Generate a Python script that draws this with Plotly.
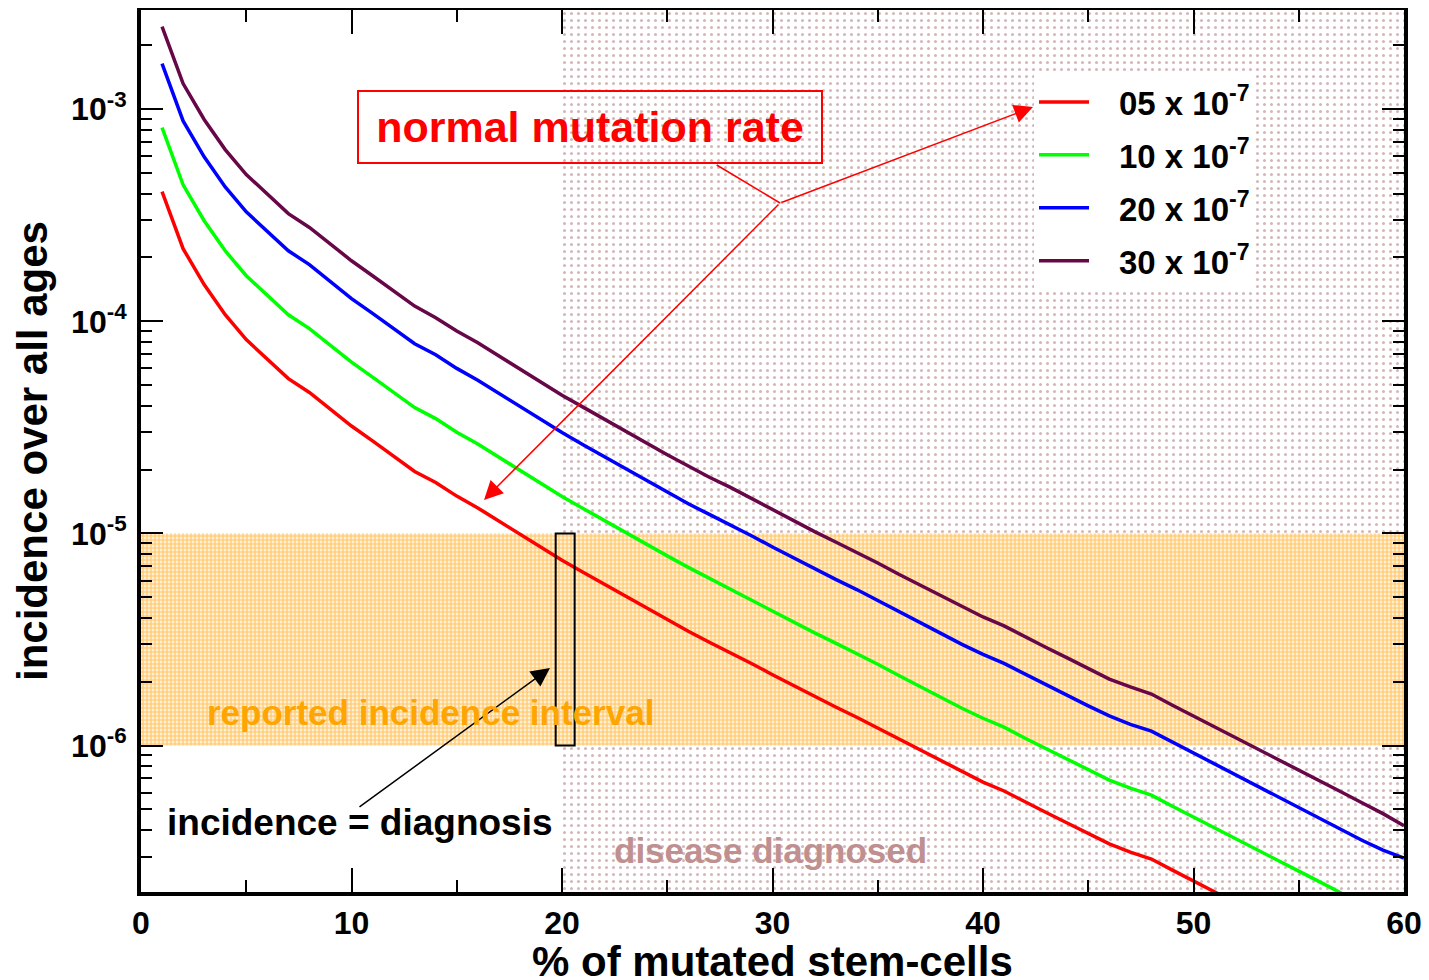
import math
import plotly.graph_objects as go

# ---------------- data ----------------
pct_mutated = list(range(1, 61))

rate_05 = [4.09e-4, 2.20e-4, 1.49e-4, 1.075e-4, 8.20e-5, 6.60e-5, 5.37e-5, 4.62e-5, 3.84e-5, 3.21e-5,
           2.73e-5, 2.32e-5, 1.96e-5, 1.74e-5, 1.50e-5, 1.32e-5, 1.146e-5, 9.90e-6, 8.60e-6, 7.47e-6,
           6.56e-6, 5.76e-6, 5.06e-6, 4.44e-6, 3.92e-6, 3.46e-6, 3.07e-6, 2.75e-6, 2.44e-6, 2.16e-6,
           1.92e-6, 1.70e-6, 1.52e-6, 1.36e-6, 1.21e-6, 1.07e-6, 9.52e-7, 8.45e-7, 7.50e-7, 6.73e-7,
           6.11e-7, 5.42e-7, 4.84e-7, 4.32e-7, 3.85e-7, 3.44e-7, 3.15e-7, 2.92e-7, 2.59e-7, 2.30e-7,
           2.04e-7, 1.81e-7, 1.61e-7, 1.44e-7, 1.28e-7, 1.14e-7, 1.01e-7, 8.96e-8, 7.96e-8, 7.06e-8]

rate_10 = [8.18e-4, 4.40e-4, 2.98e-4, 2.15e-4, 1.64e-4, 1.32e-4, 1.074e-4, 9.24e-5, 7.68e-5, 6.42e-5,
           5.46e-5, 4.64e-5, 3.92e-5, 3.48e-5, 3.00e-5, 2.64e-5, 2.29e-5, 1.98e-5, 1.72e-5, 1.494e-5,
           1.312e-5, 1.152e-5, 1.012e-5, 8.88e-6, 7.84e-6, 6.92e-6, 6.14e-6, 5.50e-6, 4.88e-6, 4.32e-6,
           3.84e-6, 3.40e-6, 3.04e-6, 2.72e-6, 2.42e-6, 2.14e-6, 1.90e-6, 1.69e-6, 1.50e-6, 1.346e-6,
           1.222e-6, 1.084e-6, 9.68e-7, 8.64e-7, 7.70e-7, 6.88e-7, 6.30e-7, 5.84e-7, 5.18e-7, 4.60e-7,
           4.08e-7, 3.62e-7, 3.22e-7, 2.88e-7, 2.56e-7, 2.28e-7, 2.02e-7, 1.79e-7, 1.59e-7, 1.41e-7]

rate_20 = [1.64e-3, 8.80e-4, 5.96e-4, 4.30e-4, 3.28e-4, 2.64e-4, 2.15e-4, 1.85e-4, 1.54e-4, 1.28e-4,
           1.09e-4, 9.28e-5, 7.84e-5, 6.96e-5, 6.00e-5, 5.28e-5, 4.58e-5, 3.96e-5, 3.44e-5, 2.99e-5,
           2.62e-5, 2.30e-5, 2.02e-5, 1.78e-5, 1.57e-5, 1.38e-5, 1.23e-5, 1.10e-5, 9.76e-6, 8.64e-6,
           7.68e-6, 6.80e-6, 6.08e-6, 5.44e-6, 4.84e-6, 4.28e-6, 3.81e-6, 3.38e-6, 3.00e-6, 2.69e-6,
           2.44e-6, 2.17e-6, 1.94e-6, 1.73e-6, 1.54e-6, 1.38e-6, 1.26e-6, 1.17e-6, 1.04e-6, 9.20e-7,
           8.16e-7, 7.24e-7, 6.44e-7, 5.76e-7, 5.12e-7, 4.56e-7, 4.04e-7, 3.58e-7, 3.22e-7, 2.95e-7]

rate_30 = [2.45e-3, 1.32e-3, 8.94e-4, 6.45e-4, 4.92e-4, 3.96e-4, 3.22e-4, 2.77e-4, 2.30e-4, 1.93e-4,
           1.64e-4, 1.39e-4, 1.18e-4, 1.04e-4, 9.00e-5, 7.92e-5, 6.88e-5, 5.94e-5, 5.16e-5, 4.48e-5,
           3.94e-5, 3.46e-5, 3.04e-5, 2.66e-5, 2.35e-5, 2.08e-5, 1.84e-5, 1.65e-5, 1.46e-5, 1.30e-5,
           1.15e-5, 1.02e-5, 9.12e-6, 8.16e-6, 7.26e-6, 6.42e-6, 5.71e-6, 5.07e-6, 4.50e-6, 4.04e-6,
           3.67e-6, 3.25e-6, 2.90e-6, 2.59e-6, 2.31e-6, 2.06e-6, 1.89e-6, 1.75e-6, 1.55e-6, 1.38e-6,
           1.22e-6, 1.09e-6, 9.66e-7, 8.64e-7, 7.68e-7, 6.84e-7, 6.06e-7, 5.38e-7, 4.78e-7, 4.19e-7]

PAD = "\u00a0\u00a0\u2009"
series_names = [PAD + "05 x 10<sup>-7</sup>", PAD + "10 x 10<sup>-7</sup>",
                PAD + "20 x 10<sup>-7</sup>", PAD + "30 x 10<sup>-7</sup>"]
series_colors = ["#ff0000", "#00ff00", "#0000ff", "#670748"]

x_ticks = [0, 10, 20, 30, 40, 50, 60]
y_tickvals = [1e-6, 1e-5, 1e-4, 1e-3]
y_ticktext = ["10<sup>-6</sup>", "10<sup>-5</sup>", "10<sup>-4</sup>", "10<sup>-3</sup>"]
y_minor = [m * 10.0 ** e for e in range(-7, -2) for m in range(2, 10)]

diagnosis_threshold = 20          # % mutated stem cells at diagnosis
reported_interval = [1e-6, 1e-5]  # reported incidence interval
x_range = [0, 60]
y_range_log = [-6.690, -2.5325]

# ---------------- layout geometry (screen pixels; page body has an 8px margin) ----------------
W, H = 1429, 980
OFF = 8
L, R, T, B = 141, 1404, 10, 892
def paper(xp, yp):
    return (xp - L) / (R - L), (B - yp) / (B - T)
def ypaper_from_value(v):
    return (math.log10(v) - y_range_log[0]) / (y_range_log[1] - y_range_log[0])

FONT = "Liberation Sans, Arial, Helvetica, sans-serif"

fig = go.Figure()

# shaded "disease diagnosed" region (x > threshold)
fig.add_trace(go.Scatter(
    x=[diagnosis_threshold, 70, 70, diagnosis_threshold],
    y=[1e-9, 1e-9, 1.0, 1.0],
    mode="none", fill="toself", fillcolor="white",
    fillpattern=dict(shape=".", fgcolor="#a87070", bgcolor="white", size=7, solidity=0.15),
    hoverinfo="skip", showlegend=False))

# reported incidence interval band
fig.add_trace(go.Scatter(
    x=[-5, 70, 70, -5],
    y=[reported_interval[0], reported_interval[0], reported_interval[1], reported_interval[1]],
    mode="none", fill="toself", fillcolor="white",
    fillpattern=dict(shape=".", fgcolor="#ffa000", bgcolor="white", size=4, solidity=0.75),
    hoverinfo="skip", showlegend=False))

for i, (name, ys, col) in enumerate(zip(series_names, [rate_05, rate_10, rate_20, rate_30], series_colors)):
    fig.add_trace(go.Scatter(
        x=pct_mutated, y=ys, mode="lines", name=name,
        line=dict(color=col, width=3.5), legendgroup=f"g{i}"))

axis_common = dict(
    showline=True, linewidth=4, linecolor="black", mirror="allticks",
    ticks="inside", tickwidth=2, tickcolor="black", showgrid=False, zeroline=False,
    tickfont=dict(family=FONT, size=32, color="black", weight="bold"),
)

fig.update_xaxes(range=x_range, tickvals=x_ticks, ticklen=24, ticklabelstandoff=0,
                 minor=dict(ticks="inside", ticklen=12, tickwidth=2, dtick=5, tickcolor="black"),
                 **axis_common)
fig.update_yaxes(type="log", range=y_range_log, tickvals=y_tickvals, ticktext=y_ticktext,
                 ticklen=22, ticklabelstandoff=4,
                 minor=dict(ticks="inside", ticklen=11, tickwidth=2, tickvals=y_minor, tickcolor="black"),
                 **axis_common)

annotations = []
# axis titles
annotations.append(dict(text="% of mutated stem-cells", xref="paper", yref="paper",
                        x=0.5, y=paper(0, 961)[1], xanchor="center", yanchor="middle",
                        showarrow=False, font=dict(family=FONT, size=42, color="black", weight="bold")))
annotations.append(dict(text="incidence over all ages", xref="paper", yref="paper",
                        x=paper(32, 0)[0], y=paper(0, 451)[1], xanchor="center", yanchor="middle",
                        textangle=-90, showarrow=False,
                        font=dict(family=FONT, size=42, color="black", weight="bold")))

# normal mutation rate box
bx, by = paper(589.5, 127)
annotations.append(dict(text="normal mutation rate", xref="paper", yref="paper", x=bx, y=by,
                        xanchor="center", yanchor="middle", showarrow=False,
                        width=462, height=70, bordercolor="#ff0000", borderwidth=2, borderpad=0,
                        font=dict(family=FONT, size=43, color="#ff0000", weight="bold")))

# red arrows from junction point
jx, jy = 780, 203
for hx, hy in [(1033, 107), (484, 500)]:
    px_, py_ = paper(hx, hy)
    annotations.append(dict(text="", xref="paper", yref="paper", x=px_, y=py_,
                            ax=jx - hx, ay=jy - hy, axref="pixel", ayref="pixel",
                            showarrow=True, arrowhead=2, arrowsize=2.5, arrowwidth=1.5,
                            arrowcolor="#ff0000"))

# black arrow to diagnosis box
hx, hy = paper(550, 668)
annotations.append(dict(text="", xref="paper", yref="paper", x=hx, y=hy,
                        ax=358 - 550, ay=808 - 668, showarrow=True, arrowhead=2,
                        arrowsize=2.5, arrowwidth=1.5, arrowcolor="black"))

tx, ty = paper(360, 822)
annotations.append(dict(text="incidence = diagnosis", xref="paper", yref="paper", x=tx, y=ty,
                        xanchor="center", yanchor="middle", showarrow=False,
                        font=dict(family=FONT, size=37, color="black", weight="bold")))
tx, ty = paper(430, 712)
annotations.append(dict(text="reported incidence interval", xref="paper", yref="paper", x=tx, y=ty,
                        xanchor="center", yanchor="middle", showarrow=False,
                        font=dict(family=FONT, size=35, color="#ffa500", weight="bold")))
tx, ty = paper(770, 850)
annotations.append(dict(text="disease diagnosed", xref="paper", yref="paper", x=tx, y=ty,
                        xanchor="center", yanchor="middle", showarrow=False,
                        font=dict(family=FONT, size=35, color="#c09090", weight="bold")))

shapes = []
lx0, ly0 = paper(716.7, 165)
lx1, ly1 = paper(jx, jy)
shapes.append(dict(type="line", xref="paper", yref="paper", x0=lx0, y0=ly0, x1=lx1, y1=ly1,
                   line=dict(color="#ff0000", width=1.5)))
# diagnosis box spanning the reported interval at the threshold
shapes.append(dict(type="rect", xref="x", yref="paper", x0=diagnosis_threshold - 0.3,
                   x1=diagnosis_threshold + 0.6,
                   y0=ypaper_from_value(reported_interval[0]), y1=ypaper_from_value(reported_interval[1]),
                   line=dict(color="black", width=2), fillcolor="rgba(0,0,0,0)"))

lgx, lgy = paper(1034, 74)
fig.update_layout(
    width=W, height=H,
    margin=dict(l=L - OFF, r=W - R + OFF, t=T - OFF, b=H - B + OFF, autoexpand=False),
    paper_bgcolor="white", plot_bgcolor="white",
    annotations=annotations, shapes=shapes,
    legend=dict(x=lgx, y=lgy, xanchor="left", yanchor="top", bgcolor="white",
                font=dict(family=FONT, size=33, color="black", weight="bold"),
                tracegroupgap=7, itemwidth=50),
    showlegend=True,
)

fig.write_html("out.html")
